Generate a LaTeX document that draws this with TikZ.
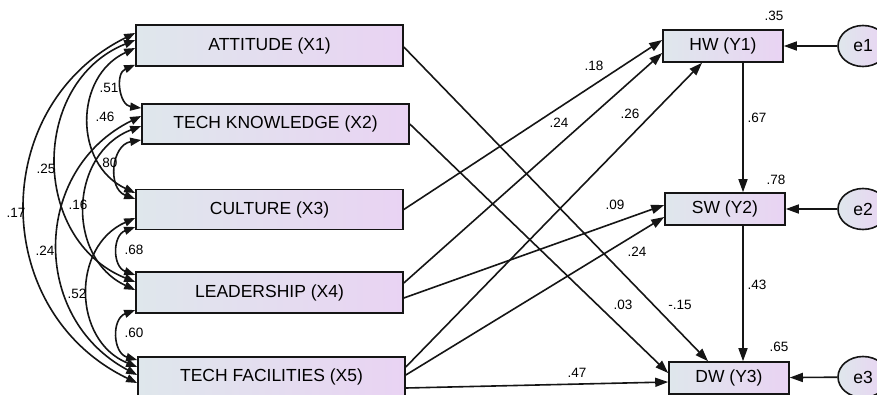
\documentclass[tikz,border=0pt]{standalone}
\usepackage{fontspec}
\setmainfont{Liberation Sans}
\usetikzlibrary{arrows.meta,shapes.geometric}
\definecolor{boxL}{HTML}{DFE7EC}
\definecolor{boxR}{HTML}{E9D3F3}
\definecolor{ink}{HTML}{151515}
\begin{document}
\begin{tikzpicture}[x=1pt,y=-1pt,
  box/.style={draw=ink, line width=1.6pt, left color=boxL, right color=boxR, inner sep=0pt, font=\fontsize{17.5}{20}\selectfont},
  err/.style={ellipse, draw=ink, line width=1.6pt, left color=boxL, right color=boxR, minimum width=50pt, minimum height=41pt, inner sep=0pt, font=\fontsize{17.5}{20}\selectfont},
  lbl/.style={inner sep=0pt, font=\fontsize{13.5}{15}\selectfont},
  pth/.style={draw=ink, line width=1.6pt, -{Triangle[length=13pt,width=9pt]}},
  cov/.style={draw=ink, line width=1.6pt, {Triangle[length=11pt,width=8pt]}-{Triangle[length=11pt,width=8pt]}},
]
\clip (0,0) rectangle (877,394);
\fill[white] (0,0) rectangle (877,394);

% nodes
\node[box, minimum width=267pt, minimum height=41pt] (x1) at (269.5,45.5) {ATTITUDE (X1)};
\node[box, minimum width=267pt, minimum height=40pt] (x2) at (275.5,124) {TECH KNOWLEDGE (X2)};
\node[box, minimum width=267pt, minimum height=40pt] (x3) at (269.5,209.5) {CULTURE (X3)};
\node[box, minimum width=267pt, minimum height=41pt] (x4) at (269.5,292.5) {LEADERSHIP (X4)};
\node[box, minimum width=267pt, minimum height=40pt] (x5) at (271.5,377) {TECH FACILITIES (X5)};
\node[box, minimum width=120pt, minimum height=32pt] (hw) at (723,46) {HW (Y1)};
\node[box, minimum width=120pt, minimum height=32pt] (sw) at (725,209) {SW (Y2)};
\node[box, minimum width=120pt, minimum height=32pt] (dw) at (729,378) {DW (Y3)};
\node[err] (e1) at (863,46) {e1};
\node[err] (e2) at (863,209) {e2};
\node[err] (e3) at (863,377) {e3};

% covariance arcs
\draw[cov] ([yshift=12.5pt]x1.west) to[bend right=64, looseness=1.2] ([yshift=-6pt]x5.west);
\draw[cov] ([yshift=5.5pt]x1.west) to[bend right=68, looseness=1.2] ([yshift=10.5pt]x4.west);
\draw[cov] ([yshift=-2.5pt]x1.west) to[bend right=65, looseness=1.2] ([yshift=16.5pt]x3.west);
\draw[cov] ([yshift=2pt]x1.south west) to[bend right=75, looseness=1.3] ([yshift=16pt]x2.west);
\draw[cov] ([yshift=8pt]x2.west) to[bend right=63, looseness=1.2] ([yshift=2pt]x5.west);
\draw[cov] ([yshift=-2pt]x2.west) to[bend right=67, looseness=1.2] ([yshift=2.5pt]x4.west);
\draw[cov] ([yshift=-16pt]x2.west) to[bend right=75, looseness=1.3] ([yshift=10.5pt]x3.west);
\draw[cov] ([yshift=-8.5pt]x3.west) to[bend right=67, looseness=1.2] ([yshift=10pt]x5.west);
\draw[cov] ([yshift=-17.5pt]x3.west) to[bend right=70, looseness=1.3] ([yshift=17.5pt]x4.west);
\draw[cov] ([yshift=-17.5pt]x4.west) to[bend right=72, looseness=1.3] ([yshift=17pt]x5.west);

% paths
\draw[pth] (x3.east) -- ([yshift=6pt]hw.west);
\draw[pth] ([yshift=9.5pt]x4.east) -- ([yshift=-7pt]hw.west);
\draw[pth] ([yshift=10pt]x5.east) -- ([xshift=-21pt]hw.south);
\draw[pth] ([yshift=-5.5pt]x4.east) -- ([yshift=4pt]sw.west);
\draw[pth] ([yshift=2pt]x5.east) -- ([yshift=-8pt]sw.west);
\draw[pth] ([yshift=-11pt]x5.east) -- ([yshift=-4pt]dw.west);
\draw[pth] ([yshift=-1.5pt]x1.east) -- ([xshift=-21pt]dw.north);
\draw[pth] (x2.east) -- ([yshift=5pt]dw.west);
\draw[pth] ([xshift=20pt]hw.south) -- ([xshift=18pt]sw.north);
\draw[pth] ([xshift=18pt]sw.south) -- ([xshift=14pt]dw.north);
\draw[pth] (e1) -- (hw);
\draw[pth] (e2) -- (sw);
\draw[pth] (e3) -- (dw);

% labels
\node[lbl] (l35) at (774,16) {.35};
\node[lbl] (l78) at (776,180) {.78};
\node[lbl] (l65) at (779,347) {.65};
\node[lbl] (l67) at (757,118) {.67};
\node[lbl] (l43) at (757,285) {.43};
\node[lbl] (l18) at (594,66) {.18};
\node[lbl] (l24a) at (559,123) {.24};
\node[lbl] (l26) at (630,114) {.26};
\node[lbl] (l09) at (615,205) {.09};
\node[lbl] (l24b) at (637,252) {.24};
\node[lbl] (l03) at (623,305) {.03};
\node[lbl] (l15) at (680,305) {-.15};
\node[lbl] (l47) at (577,373) {.47};
\node[lbl] (l51) at (109,88) {.51};
\node[lbl] (l46) at (105,117) {.46};
\node[lbl] (l80) at (108,163) {.80};
\node[lbl] (l25) at (46,169) {.25};
\node[lbl] (l16) at (78,205) {.16};
\node[lbl] (l17) at (16,213) {.17};
\node[lbl] (l24c) at (45,251) {.24};
\node[lbl] (l68) at (134,250) {.68};
\node[lbl] (l52) at (77,294) {.52};
\node[lbl] (l60) at (134,333) {.60};
\end{tikzpicture}
\end{document}
